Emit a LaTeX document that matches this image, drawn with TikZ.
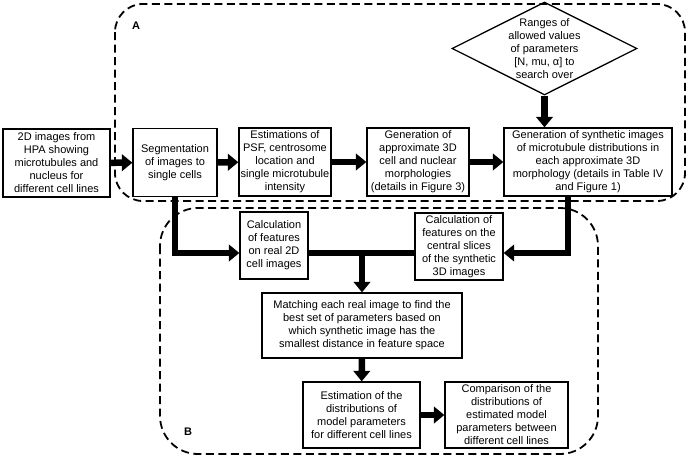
\documentclass[tikz,border=0pt]{standalone}
\usepackage{fontspec}
\setmainfont{Liberation Sans}
\usetikzlibrary{arrows.meta, shapes.geometric}

\begin{document}
\begin{tikzpicture}[x=1pt, y=-1pt,
  font=\fontsize{11}{13}\selectfont,
  box/.style={draw, line width=1.3pt, align=center, inner sep=1pt},
  flow/.style={line width=6.5pt, -{Triangle[length=10.5pt, width=16.5pt]}},
  region/.style={dashed, line width=1.8pt, dash pattern=on 8pt off 4.5pt}]
\useasboundingbox (0,0) rectangle (689,458);

% dashed regions
\draw[region, rounded corners=28pt] (115,4) rectangle (685,201);
\draw[region, rounded corners=38pt] (160,208) rectangle (598,454);
\node[font=\fontsize{11}{13}\selectfont\bfseries] (lblA) at (136,26) {A};
\node[font=\fontsize{11}{13}\selectfont\bfseries] (lblB) at (188,432) {B};

% top row
\node[box, minimum width=107pt, minimum height=68pt] (img) at (56.5,163)
  {2D images from\\HPA showing\\microtubules and\\nucleus for\\different cell lines};
\node[box, minimum width=84pt, minimum height=68pt] (seg) at (175,162.5)
  {Segmentation\\of images to\\single cells};
\node[box, minimum width=92pt, minimum height=68pt] (est) at (285,162)
  {Estimations of\\PSF, centrosome\\location and\\single microtubule\\intensity};
\node[box, minimum width=102pt, minimum height=68pt] (morph) at (418,162)
  {Generation of\\approximate 3D\\cell and nuclear\\morphologies\\(details in Figure 3)};
\node[box, minimum width=168pt, minimum height=68pt] (gen) at (588,162)
  {Generation of synthetic images\\of microtubule distributions in\\each approximate 3D\\morphology (details in Table IV\\and Figure 1)};

% parameter ranges
\node[diamond, draw, line width=1.3pt, minimum width=185pt, minimum height=93pt,
  inner sep=0pt] (range) at (544.5,48.5) {};
\node[align=center, inner sep=0pt] (rangetxt) at (range.center)
  {Ranges of\\allowed values\\of parameters\\{[N, mu, α]} to\\search over};

% feature calculation
\node[box, minimum width=68pt, minimum height=67pt] (real) at (274,245.5)
  {Calculation\\of features\\on real 2D\\cell images};
\node[box, minimum width=88pt, minimum height=67pt] (synth) at (459,246.5)
  {Calculation of\\features on the\\central slices\\of the synthetic\\3D images};
\node[box, minimum width=200pt, minimum height=65pt] (match) at (362,325.5)
  {Matching each real image to find the\\best set of parameters based on\\which synthetic image has the\\smallest distance in feature space};
\node[box, minimum width=117pt, minimum height=66pt] (dist) at (361.5,415)
  {Estimation of the\\distributions of\\model parameters\\for different cell lines};
\node[box, minimum width=123pt, minimum height=66pt] (comp) at (506.5,415)
  {Comparison of the\\distributions of\\estimated model\\parameters between\\different cell lines};

\coordinate (join) at (362,253);
\coordinate (rturn) at (568,253);

% arrows
\draw[flow] (img) -- (seg);
\draw[flow] (seg) -- (est);
\draw[flow] (est) -- (morph);
\draw[flow] (morph) -- (gen);
\draw[flow] (range.south) -- (range.south |- gen.north);
\draw[flow] (seg.south) |- (real.west |- join);
\draw[flow] (gen.south -| rturn) -- (rturn) -- (synth.east |- rturn);
\draw[line width=6.5pt] (real.east |- join) -- (synth.west |- join);
\draw[flow] (join) -- (match.north);
\draw[flow] (match) -- (dist);
\draw[flow] (dist) -- (comp);
\end{tikzpicture}
\end{document}
